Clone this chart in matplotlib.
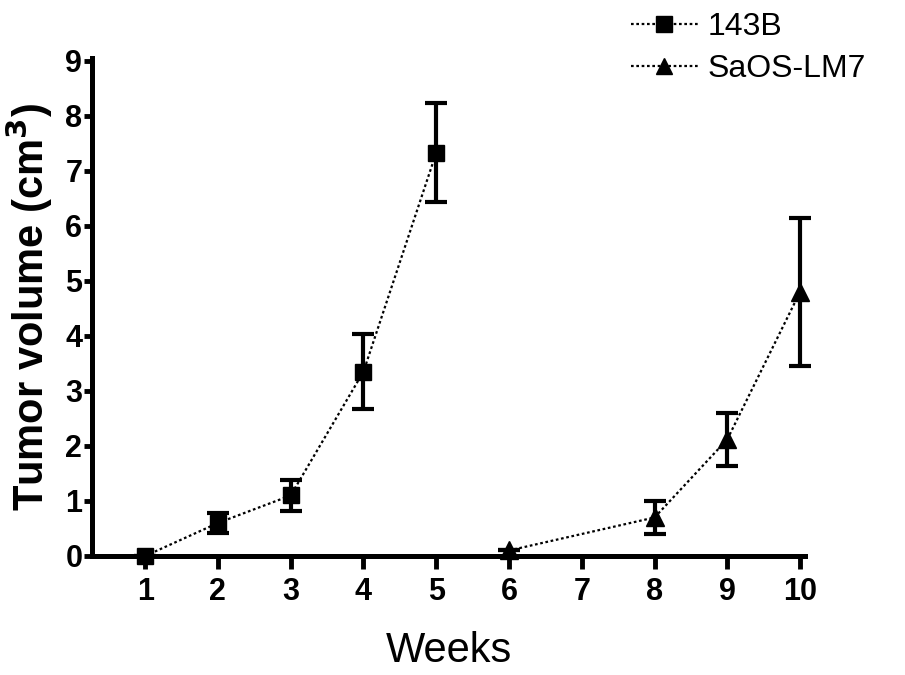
import matplotlib.pyplot as plt
from matplotlib.lines import Line2D

plt.rcParams['font.family'] = ['Liberation Sans', 'DejaVu Sans']

# week positions (categorical, evenly spaced)
week_labels = ['1', '2', '3', '4', '5', '6', '7', '8', '9', '10']

# 143B
weeks_143b = [1, 2, 3, 4, 5]
vol_143b = [0.0, 0.6, 1.1, 3.35, 7.33]
err_143b = [0.0, 0.18, 0.28, 0.68, 0.9]

# SaOS-LM7
weeks_lm7 = [6, 8, 9, 10]
vol_lm7 = [0.1, 0.7, 2.12, 4.8]
err_lm7 = [0.0, 0.3, 0.48, 1.35]

dots = (0, (1.2, 1.2))

fig = plt.figure(figsize=(9.05, 6.75), dpi=100)
ax = fig.add_axes([0.1017, 0.1763, 0.788, 0.7377])

ax.errorbar(weeks_143b, vol_143b, yerr=err_143b, color='black', linestyle=dots,
            linewidth=1.6, marker='s', markersize=12, elinewidth=3, capsize=8,
            capthick=3, clip_on=False, zorder=3)
ax.errorbar(weeks_lm7, vol_lm7, yerr=err_lm7, color='black', linestyle=dots,
            linewidth=1.6, marker='^', markersize=13, elinewidth=3, capsize=8,
            capthick=3, clip_on=False, zorder=3)

ax.set_xlim(0.27, 10.07)
ax.set_ylim(0, 9.05)
ax.set_xticks(range(1, 11))
ax.set_xticklabels(week_labels)
ax.set_yticks(range(0, 10))

for s in ['top', 'right']:
    ax.spines[s].set_visible(False)
for s in ['left', 'bottom']:
    ax.spines[s].set_linewidth(3.6)
    ax.spines[s].set_capstyle('projecting')

ax.tick_params(axis='x', width=3.5, length=9, labelsize=22, pad=6)
ax.tick_params(axis='y', width=3.5, length=6, labelsize=22, pad=1)
for lab in ax.get_xticklabels() + ax.get_yticklabels():
    lab.set_fontweight('bold')

ax.set_ylabel('Tumor volume (cm$^{\\mathbf{3}}$)', fontsize=30, fontweight='bold')
ax.yaxis.set_label_coords(-0.052, 0.5)
ax.set_xlabel('Weeks', fontsize=30)
ax.xaxis.set_label_coords(0.5, -0.15)

handles = [
    Line2D([], [], color='black', linestyle=dots, linewidth=1.6, marker='s', markersize=11),
    Line2D([], [], color='black', linestyle=dots, linewidth=1.6, marker='^', markersize=12),
]
fig.legend(handles, ['143B', 'SaOS-LM7'], loc='upper left',
           bbox_to_anchor=(0.697, 0.982), frameon=False, fontsize=23,
           handlelength=2.1, handletextpad=0.3, labelspacing=0.37,
           borderpad=0, borderaxespad=0)

fig.savefig('out.png', dpi=100)
